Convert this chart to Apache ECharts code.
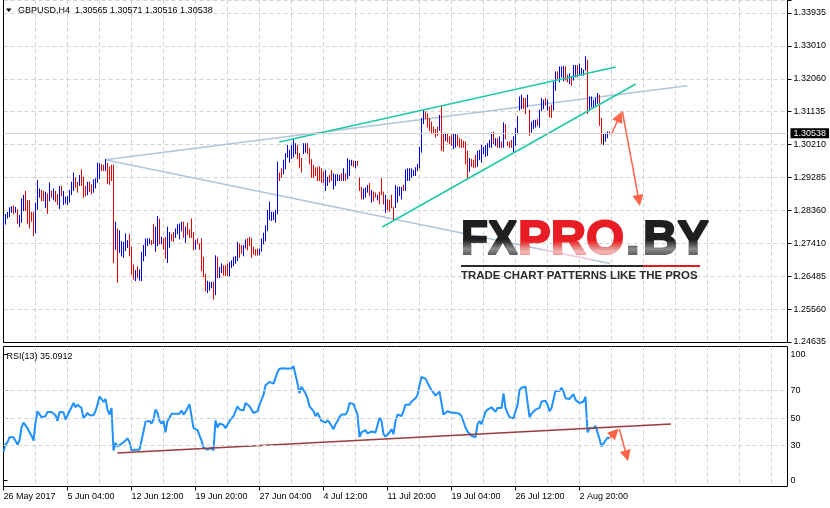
<!DOCTYPE html>
<html><head><meta charset="utf-8">
<script src="https://cdn.jsdelivr.net/npm/echarts@6/dist/echarts.min.js"></script>
<style>html,body{margin:0;padding:0;background:#fff}#c{width:830px;height:508px}</style>
</head><body><div id="c"></div>
<script>
// ---------- DATA (GBPUSD H4 bars) ----------
const opens = [
1.2795,1.2800,1.2816,1.2822,1.2834,1.2845,1.2832,1.2834,1.2796,1.2808,
1.2842,1.2876,1.2858,1.2856,1.2826,1.2826,1.2778,1.2846,1.2878,1.2890,
1.2886,1.2850,1.2878,1.2868,1.2888,1.2870,1.2886,1.2876,1.2848,1.2900,
1.2856,1.2858,1.2856,1.2862,1.2884,1.2898,1.2924,1.2912,1.2910,1.2946,
1.2925,1.2898,1.2884,1.2912,1.2905,1.2890,1.2903,1.2920,1.2932,1.2962,
1.2960,1.2951,1.2966,1.2952,1.2958,1.2940,1.2735,1.2775,1.2722,1.2712,
1.2708,1.2728,1.2735,1.2760,1.2726,1.2678,1.2640,1.2672,1.2642,1.2645,
1.2700,1.2714,1.2740,1.2744,1.2748,1.2790,1.2726,1.2745,1.2806,1.2744,
1.2752,1.2755,1.2700,1.2736,1.2764,1.2770,1.2762,1.2772,1.2760,1.2781,
1.2798,1.2750,1.2795,1.2777,1.2806,1.2770,1.2730,1.2752,1.2739,1.2745,
1.2699,1.2652,1.2607,1.2613,1.2620,1.2628,1.2600,1.2698,1.2650,1.2663,
1.2676,1.2676,1.2680,1.2655,1.2677,1.2682,1.2689,1.2698,1.2738,1.2733,
1.2711,1.2732,1.2752,1.2756,1.2752,1.2728,1.2721,1.2724,1.2712,1.2724,
1.2745,1.2754,1.2783,1.2814,1.2810,1.2812,1.2806,1.2832,1.2938,1.2950,
1.2942,1.2957,1.2990,1.2976,1.2986,1.2990,1.3000,1.3016,1.2993,1.2978,
1.3000,1.3003,1.3020,1.3006,1.2975,1.2960,1.2953,1.2953,1.2955,1.2950,
1.2941,1.2896,1.2909,1.2932,1.2945,1.2900,1.2909,1.2922,1.2922,1.2936,
1.2924,1.2936,1.2929,1.2938,1.2965,1.2973,1.2959,1.2972,1.2925,1.2898,
1.2871,1.2876,1.2890,1.2908,1.2862,1.2884,1.2882,1.2867,1.2884,1.2912,
1.2884,1.2834,1.2862,1.2860,1.2874,1.2841,1.2848,1.2862,1.2880,1.2871,
1.2904,1.2895,1.2923,1.2925,1.2931,1.2936,1.2937,1.2950,1.2960,1.3005,
1.3084,1.3111,1.3106,1.3092,1.3082,1.3069,1.3061,1.3068,1.3065,1.3100,
1.3048,1.3036,1.3049,1.3040,1.3045,1.3014,1.3018,1.3045,1.3035,1.3032,
1.3028,1.3026,1.3000,1.2950,1.2976,1.2974,1.2988,1.2963,1.2982,1.2976,
1.2999,1.2991,1.2994,1.3017,1.3018,1.3054,1.3022,1.3035,1.3017,1.3026,
1.3017,1.3075,1.3027,1.3027,1.3031,1.3004,1.3023,1.3056,1.3122,1.3126,
1.3149,1.3149,1.3131,1.3116,1.3060,1.3070,1.3074,1.3090,1.3075,1.3120,
1.3126,1.3150,1.3122,1.3125,1.3130,1.3122,1.3180,1.3225,1.3203,1.3216,
1.3206,1.3238,1.3215,1.3197,1.3210,1.3207,1.3216,1.3242,1.3221,1.3221,
1.3220,1.3235,1.3256,1.3120,1.3131,1.3131,1.3136,1.3141,1.3158,1.3080,
1.3040,1.3034,1.3045,1.30565];
const closes = [
1.2814,1.2820,1.2828,1.2840,1.2844,1.2830,1.2842,1.2803,1.2817,1.2862,
1.2872,1.2842,1.2806,1.2800,1.2808,1.2770,1.2850,1.2912,1.2893,1.2866,
1.2868,1.2882,1.2832,1.2908,1.2876,1.2893,1.2864,1.2855,1.2898,1.2880,
1.2885,1.2870,1.2872,1.2888,1.2911,1.2936,1.2904,1.2890,1.2930,1.2910,
1.2878,1.2880,1.2911,1.2892,1.2885,1.2918,1.2922,1.2964,1.2964,1.2950,
1.2951,1.2975,1.2918,1.2912,1.2924,1.2700,1.2790,1.2700,1.2770,1.2742,
1.2740,1.2764,1.2747,1.2712,1.2660,1.2645,1.2661,1.2650,1.2663,1.2712,
1.2731,1.2750,1.2752,1.2752,1.2741,1.2745,1.2782,1.2810,1.2745,1.2756,
1.2730,1.2706,1.2782,1.2768,1.2752,1.2751,1.2780,1.2791,1.2793,1.2799,
1.2763,1.2784,1.2770,1.2762,1.2763,1.2728,1.2747,1.2744,1.2729,1.2672,
1.2653,1.2612,1.2631,1.2629,1.2629,1.2590,1.2700,1.2652,1.2671,1.2681,
1.2657,1.2655,1.2655,1.2684,1.2690,1.2700,1.2702,1.2740,1.2707,1.2717,
1.2733,1.2749,1.2727,1.2739,1.2708,1.2715,1.2712,1.2712,1.2724,1.2751,
1.2767,1.2788,1.2830,1.2854,1.2827,1.2828,1.2832,1.2966,1.2923,1.2932,
1.2974,1.2992,1.3016,1.3002,1.3016,1.3034,1.3021,1.2985,1.2962,1.2948,
1.3020,1.3020,1.2999,1.2971,1.2934,1.2932,1.2937,1.2924,1.2923,1.2918,
1.2918,1.2944,1.2926,1.2918,1.2923,1.2936,1.2933,1.2935,1.2932,1.2923,
1.2950,1.2923,1.2978,1.2973,1.2975,1.2962,1.2972,1.2965,1.2895,1.2871,
1.2893,1.2896,1.2903,1.2881,1.2888,1.2866,1.2875,1.2876,1.2857,1.2884,
1.2857,1.2874,1.2840,1.2836,1.2846,1.2810,1.2902,1.2897,1.2898,1.2898,
1.2894,1.2946,1.2950,1.2950,1.2951,1.2946,1.2954,1.2963,1.3010,1.3090,
1.3113,1.3097,1.3075,1.3065,1.3055,1.3055,1.3046,1.3050,1.3100,1.3010,
1.3008,1.3049,1.3032,1.3027,1.3022,1.3048,1.3049,1.3022,1.3017,1.3017,
1.3017,1.2972,1.2940,1.2978,1.2963,1.2959,1.2961,1.2999,1.3002,1.3015,
1.3011,1.3016,1.3021,1.3031,1.3050,1.3027,1.3036,1.3017,1.3040,1.3016,
1.3079,1.3041,1.3021,1.3017,1.3016,1.3040,1.3063,1.3097,1.3153,1.3158,
1.3126,1.3112,1.3158,1.3052,1.3082,1.3087,1.3088,1.3078,1.3115,1.3149,
1.3144,1.3135,1.3144,1.3102,1.3101,1.3194,1.3223,1.3211,1.3237,1.3238,
1.3240,1.3207,1.3202,1.3218,1.3192,1.3241,1.3242,1.3216,1.3246,1.3234,
1.3230,1.3266,1.3114,1.3153,1.3153,1.3144,1.3149,1.3163,1.3080,1.3030,
1.3040,1.3047,1.3055,1.30538];
const lows = [
1.2790,1.2797,1.2814,1.2818,1.2830,1.2826,1.2830,1.2799,1.2790,1.2802,
1.2835,1.2835,1.2799,1.2786,1.2805,1.2764,1.2773,1.2838,1.2873,1.2863,
1.2863,1.2844,1.2827,1.2863,1.2873,1.2866,1.2861,1.2852,1.2841,1.2877,
1.2852,1.2856,1.2852,1.2859,1.2880,1.2892,1.2901,1.2887,1.2906,1.2906,
1.2873,1.2877,1.2880,1.2889,1.2882,1.2887,1.2899,1.2915,1.2925,1.2948,
1.2948,1.2948,1.2912,1.2909,1.2920,1.2688,1.2726,1.2632,1.2717,1.2707,
1.2703,1.2722,1.2731,1.2707,1.2655,1.2641,1.2637,1.2646,1.2638,1.2637,
1.2693,1.2707,1.2736,1.2741,1.2739,1.2742,1.2720,1.2736,1.2741,1.2741,
1.2726,1.2701,1.2688,1.2731,1.2750,1.2748,1.2759,1.2769,1.2755,1.2778,
1.2759,1.2745,1.2767,1.2759,1.2759,1.2724,1.2726,1.2741,1.2726,1.2665,
1.2648,1.2608,1.2603,1.2610,1.2617,1.2585,1.2597,1.2646,1.2646,1.2660,
1.2653,1.2651,1.2651,1.2651,1.2674,1.2679,1.2686,1.2693,1.2703,1.2714,
1.2707,1.2729,1.2724,1.2736,1.2703,1.2712,1.2709,1.2709,1.2710,1.2720,
1.2741,1.2750,1.2778,1.2809,1.2807,1.2809,1.2802,1.2826,1.2920,1.2929,
1.2939,1.2953,1.2986,1.2972,1.2982,1.2986,1.2996,1.2982,1.2958,1.2944,
1.2996,1.3000,1.2996,1.2967,1.2929,1.2929,1.2934,1.2920,1.2920,1.2915,
1.2915,1.2892,1.2906,1.2915,1.2920,1.2896,1.2906,1.2920,1.2920,1.2920,
1.2920,1.2920,1.2925,1.2934,1.2963,1.2960,1.2956,1.2963,1.2892,1.2868,
1.2868,1.2873,1.2887,1.2878,1.2859,1.2863,1.2873,1.2865,1.2854,1.2880,
1.2854,1.2830,1.2837,1.2833,1.2843,1.2807,1.2844,1.2859,1.2878,1.2868,
1.2892,1.2892,1.2920,1.2920,1.2929,1.2934,1.2934,1.2948,1.2956,1.3000,
1.3081,1.3095,1.3071,1.3062,1.3052,1.3052,1.3043,1.3048,1.3062,1.3005,
1.3003,1.3033,1.3029,1.3024,1.3019,1.3010,1.3014,1.3019,1.3014,1.3014,
1.3014,1.2967,1.2928,1.2946,1.2960,1.2956,1.2958,1.2960,1.2979,1.2972,
1.2996,1.2988,1.2991,1.3014,1.3014,1.3024,1.3019,1.3014,1.3014,1.3013,
1.3014,1.3038,1.3019,1.3014,1.3014,1.3000,1.3019,1.3052,1.3119,1.3123,
1.3123,1.3109,1.3128,1.3048,1.3057,1.3067,1.3071,1.3076,1.3071,1.3117,
1.3123,1.3133,1.3119,1.3100,1.3098,1.3119,1.3175,1.3208,1.3199,1.3213,
1.3202,1.3204,1.3199,1.3194,1.3189,1.3204,1.3213,1.3213,1.3218,1.3218,
1.3218,1.3232,1.3109,1.3117,1.3128,1.3128,1.3133,1.3138,1.3076,1.3025,
1.3022,1.3031,1.3041,1.30516];
const highs = [
1.2818,1.2824,1.2830,1.2843,1.2846,1.2848,1.2844,1.2837,1.2821,1.2868,
1.2878,1.2889,1.2863,1.2863,1.2830,1.2830,1.2856,1.2920,1.2896,1.2892,
1.2889,1.2887,1.2882,1.2913,1.2890,1.2896,1.2889,1.2880,1.2903,1.2903,
1.2889,1.2873,1.2875,1.2892,1.2915,1.2941,1.2927,1.2915,1.2934,1.2950,
1.2929,1.2903,1.2915,1.2915,1.2908,1.2922,1.2925,1.2969,1.2967,1.2965,
1.2963,1.2979,1.2969,1.2958,1.2963,1.2963,1.2802,1.2783,1.2778,1.2747,
1.2745,1.2769,1.2750,1.2767,1.2731,1.2681,1.2665,1.2676,1.2667,1.2717,
1.2736,1.2755,1.2755,1.2755,1.2750,1.2795,1.2788,1.2818,1.2811,1.2759,
1.2755,1.2759,1.2788,1.2773,1.2767,1.2773,1.2783,1.2795,1.2797,1.2802,
1.2802,1.2788,1.2799,1.2780,1.2811,1.2773,1.2750,1.2755,1.2741,1.2755,
1.2703,1.2655,1.2635,1.2632,1.2632,1.2632,1.2707,1.2703,1.2674,1.2684,
1.2679,1.2679,1.2684,1.2688,1.2693,1.2703,1.2705,1.2745,1.2741,1.2736,
1.2736,1.2752,1.2755,1.2759,1.2755,1.2731,1.2724,1.2726,1.2726,1.2755,
1.2771,1.2792,1.2835,1.2859,1.2830,1.2830,1.2835,1.2972,1.2941,1.2953,
1.2977,1.2996,1.3019,1.3005,1.3019,1.3038,1.3024,1.3019,1.2996,1.2982,
1.3024,1.3024,1.3024,1.3010,1.2979,1.2963,1.2956,1.2956,1.2958,1.2953,
1.2944,1.2948,1.2929,1.2934,1.2948,1.2939,1.2936,1.2937,1.2934,1.2939,
1.2953,1.2939,1.2982,1.2977,1.2977,1.2975,1.2974,1.2974,1.2927,1.2901,
1.2896,1.2899,1.2906,1.2911,1.2892,1.2887,1.2884,1.2878,1.2887,1.2925,
1.2887,1.2878,1.2865,1.2863,1.2878,1.2844,1.2906,1.2901,1.2901,1.2901,
1.2906,1.2950,1.2953,1.2953,1.2953,1.2948,1.2956,1.2965,1.3014,1.3095,
1.3117,1.3114,1.3109,1.3095,1.3085,1.3071,1.3064,1.3071,1.3104,1.3130,
1.3052,1.3052,1.3052,1.3043,1.3048,1.3052,1.3052,1.3048,1.3038,1.3035,
1.3031,1.3029,1.3003,1.2982,1.2979,1.2977,1.2991,1.3003,1.3005,1.3019,
1.3014,1.3019,1.3024,1.3033,1.3054,1.3057,1.3038,1.3038,1.3043,1.3029,
1.3083,1.3078,1.3029,1.3029,1.3033,1.3043,1.3067,1.3101,1.3156,1.3161,
1.3152,1.3152,1.3161,1.3119,1.3085,1.3090,1.3090,1.3092,1.3119,1.3152,
1.3147,1.3152,1.3147,1.3128,1.3133,1.3199,1.3227,1.3227,1.3241,1.3241,
1.3243,1.3241,1.3218,1.3221,1.3213,1.3245,1.3245,1.3245,1.3249,1.3237,
1.3232,1.3270,1.3260,1.3156,1.3156,1.3147,1.3152,1.3166,1.3161,1.3095,
1.3052,1.3050,1.3057,1.30571];
const rsiValues = [
25.2,30.7,32.4,36.0,37.1,36.0,35.2,30.7,33.6,43.1,
46.7,46.0,42.6,39.5,37.1,33.6,46.7,55.0,53.8,50.7,
50.7,51.4,54.5,53.1,54.5,55.0,52.1,47.9,54.5,53.8,
54.3,49.0,50.2,55.0,57.9,61.0,57.9,59.8,61.0,57.4,
49.8,50.7,53.8,52.1,51.4,52.1,55.0,59.8,65.7,64.0,
61.7,64.0,56.2,52.6,57.4,26.4,31.7,29.3,30.0,31.2,
32.4,33.6,35.2,32.4,26.4,26.4,26.9,26.9,26.9,27.6,
40.2,47.4,46.7,47.9,46.0,49.0,56.2,53.8,47.9,46.0,
47.9,39.5,47.9,50.2,53.1,52.6,53.1,53.8,53.1,55.5,
52.6,54.5,54.5,60.2,51.4,42.6,41.9,41.2,41.9,33.6,
28.3,26.9,26.9,26.9,28.3,26.4,48.3,43.1,46.0,45.5,
45.0,42.6,42.6,47.9,49.0,51.4,55.0,58.6,56.2,56.2,
55.5,61.0,60.2,58.6,58.6,53.8,53.1,55.0,59.8,63.3,
66.9,74.0,74.0,76.4,75.2,75.2,74.0,83.6,86.0,84.8,
86.4,87.1,86.0,84.8,86.4,87.9,87.1,75.2,68.1,72.9,
74.0,68.1,64.5,58.6,57.4,55.0,51.4,53.8,53.8,47.9,
46.7,46.7,48.3,46.7,45.5,41.9,45.5,47.9,50.7,52.6,
51.4,52.6,55.0,61.0,59.8,60.2,60.2,52.6,36.0,39.5,
40.2,41.2,38.8,39.5,40.2,40.7,39.5,40.2,50.2,47.9,
38.3,36.4,37.1,39.5,41.9,38.3,47.9,52.6,51.4,51.4,
55.0,59.8,61.0,59.8,62.1,63.3,64.5,66.9,74.0,80.0,
81.2,78.8,78.8,72.9,70.5,69.8,66.4,65.0,69.3,69.3,
52.6,51.4,55.0,55.0,53.8,53.8,53.8,54.5,53.1,51.4,
50.2,43.1,40.2,38.8,37.1,37.1,36.0,45.5,47.9,45.5,
46.7,54.5,56.2,57.4,57.9,57.4,54.5,57.4,56.2,57.4,
68.1,57.4,53.8,50.7,50.7,49.8,55.0,59.3,70.5,72.1,
72.9,72.9,71.7,50.7,53.1,52.6,56.2,55.0,57.4,62.1,
63.3,62.6,59.8,55.0,57.4,57.4,69.8,70.5,69.8,72.1,
69.3,64.5,64.0,64.0,63.3,67.4,63.3,64.0,61.0,60.2,
62.1,65.7,39.5,42.6,42.6,42.6,44.3,45.5,34.8,29.3,
30.0,33.6,35.6,35.09];

const dateLabels = ['26 May 2017','5 Jun 04:00','12 Jun 12:00','19 Jun 20:00','27 Jun 04:00',
  '4 Jul 12:00','11 Jul 20:00','19 Jul 04:00','26 Jul 12:00','2 Aug 20:00'];
const priceTickLabels = ['1.24635','1.25560','1.26485','1.27410','1.28360','1.29285',
  '1.30210','1.31135','1.32060','1.33010','1.33935'];
const rsiLevels = [30, 50, 70];
const rsiTickLabels = ['0','30','50','70','100'];
const lastPrice = 1.30538;

// drawn objects: [bar index, price] / [bar index, RSI]
const channelUpper = [[137.9, 1.30289], [306.1, 1.32409]];
const channelLower = [[189.4, 1.27886], [316.1, 1.31928]];
const fanUpper = [[50.75, 1.29788], [341.9, 1.3188]];
const fanLower = [[50.75, 1.29788], [303.3, 1.26851]];
const priceArrowUp = [[304.2, 1.30543], [308.0, 1.31004]];
const priceArrowDown = [[309.4, 1.31154], [317.7, 1.28635]];
const rsiTrend = [[56.9, 24.5], [333.75, 45.6]];
const rsiArrowUp = [[303.0, 35.4], [305.65, 39.4]];
const rsiArrowDown = [[307.9, 42.0], [311.6, 22.4]];

// ---------- CHART ----------
const SLOTS = 393;
const cats = Array.from({length: SLOTS}, (_, i) => String(i));
const bars = opens.map((o, i) => [i, o, closes[i], lows[i], highs[i]]);
const FONT = '"Liberation Sans", Arial, sans-serif';
const GRID_LINE = {color: '#d3d3d3', type: [4, 3], width: 1};
const TEAL = '#1ec9a4', STEEL = '#b0c4de', TOMATO = '#ff6347';
const UP = '#0000e6', DOWN = '#e60000', FLAT = '#000000';
const labelTick = (i) => i % 32 === 0 && i <= 288;
const gridTick = (i) => i % 16 === 0 && i > 0;

const chart = echarts.init(document.getElementById('c'), null, {renderer: 'canvas'});
const vGrad = (stops) => ({type: 'linear', x: 0, y: 0, x2: 0, y2: 1, global: false,
  colorStops: stops.map(s => ({offset: s[0], color: s[1]}))});
const grayShine = () => vGrad([[0, '#000000'], [0.42, '#000000'], [0.72, '#8c8c8c'], [1, '#333333']]);
const redShine = () => vGrad([[0, '#000000'], [0.45, '#000000'], [0.78, '#f8b6b6'], [1, '#f07474']]);
const LOGO_FONT = 'bold 49px ' + FONT;
const logoText = (x, text, color, sx) => ({type: 'text', x: x, y: 240, scaleX: sx || 1, z: 100,
  style: {text: text, font: LOGO_FONT, fill: color, stroke: color, lineWidth: 2, verticalAlign: 'middle'}});
const shine = (x, w, grad) => ({type: 'rect', z: 101, shape: {x: x, y: 221, width: w, height: 39},
  style: {fill: grad, blend: 'lighten'}});

const arrowLine = (seg) => [{coord: seg[0]}, {coord: seg[1]}];

chart.setOption({
  animation: false,
  backgroundColor: '#ffffff',
  textStyle: {fontFamily: FONT},
  grid: [
    {left: 3.5, width: 784, top: 0, height: 342},
    {left: 3.5, width: 784, top: 346.5, height: 140, show: true, borderColor: '#000', borderWidth: 1}
  ],
  xAxis: [
    {gridIndex: 0, type: 'category', data: cats, boundaryGap: false,
     axisLine: {show: true, lineStyle: {color: '#000', width: 1}},
     axisTick: {show: false}, axisLabel: {show: false},
     splitLine: {show: true, interval: gridTick, lineStyle: GRID_LINE}},
    {gridIndex: 0, type: 'value', min: 0, max: SLOTS - 1, show: false},
    {gridIndex: 1, type: 'category', data: cats, boundaryGap: false,
     axisLine: {show: false},
     axisTick: {show: true, interval: labelTick, length: 4, lineStyle: {color: '#000'}},
     axisLabel: {show: true, interval: labelTick, align: 'left', margin: 6,
       fontSize: 9, fontFamily: FONT, color: '#000',
       formatter: (v, idx) => dateLabels[Math.round(idx / 32)] || ''},
     splitLine: {show: true, interval: gridTick, lineStyle: GRID_LINE}},
    {gridIndex: 1, type: 'value', min: 0, max: SLOTS - 1, show: false}
  ],
  yAxis: [
    {gridIndex: 0, type: 'value', min: 1.24635, max: 1.34302, position: 'left', offset: 1.5,
     axisLine: {show: true, lineStyle: {color: '#000'}}, axisTick: {show: false},
     axisLabel: {show: false}, splitLine: {show: false}},
    {gridIndex: 0, type: 'value', min: 0, max: 10.395, interval: 1, position: 'right',
     axisLine: {show: true, lineStyle: {color: '#000'}},
     axisTick: {show: true, length: 4, lineStyle: {color: '#000'}},
     axisLabel: {show: true, margin: 6, fontSize: 9, fontFamily: FONT, color: '#000', showMaxLabel: true,
       formatter: (v) => Math.abs(v - Math.round(v)) < 1e-6 ? (priceTickLabels[Math.round(v)] || '') : ''},
     splitLine: {show: true, lineStyle: GRID_LINE}},
    {gridIndex: 1, type: 'value', min: 0, max: 102.3, position: 'right',
     axisLine: {show: false},
     axisTick: {show: true, length: 4, customValues: [4.6, 30, 50, 70, 96.8], lineStyle: {color: '#000'}},
     axisLabel: {show: true, margin: 3, fontSize: 9, fontFamily: FONT, color: '#000',
       customValues: [4.6, 30, 50, 70, 96.8],
       formatter: (v) => v < 10 ? rsiTickLabels[0] : (v > 90 ? rsiTickLabels[4] : String(Math.round(v)))},
     splitLine: {show: false}}
  ],
  series: [
    {type: 'line', name: 'fanUpper', xAxisIndex: 1, yAxisIndex: 0, data: fanUpper, symbol: 'none',
     lineStyle: {color: STEEL, width: 1.5}, silent: true, z: 2,
     markLine: {silent: true, symbol: 'none', animation: false, precision: 5,
       lineStyle: {color: '#d3d3d3', type: 'solid', width: 1},
       label: {show: true, position: 'end', distance: 3, formatter: () => lastPrice.toFixed(5),
         color: '#fff', backgroundColor: '#000', padding: [1, 3, 0, 3], fontSize: 9, fontFamily: FONT},
       data: [{yAxis: lastPrice}]}},
    {type: 'line', name: 'fanLower', xAxisIndex: 1, yAxisIndex: 0, data: fanLower, symbol: 'none',
     lineStyle: {color: STEEL, width: 1.5}, silent: true, z: 2},
    {type: 'custom', name: 'bars', xAxisIndex: 0, yAxisIndex: 0, data: bars, z: 3, silent: true,
     encode: {x: 0, y: [1, 2, 3, 4]},
     renderItem: (params, api) => {
       const i = api.value(0), o = api.value(1), c = api.value(2), l = api.value(3), h = api.value(4);
       const pH = api.coord([i, h]), pL = api.coord([i, l]);
       const col = c > o ? UP : (c < o ? DOWN : FLAT);
       return {type: 'line', shape: {x1: pH[0], y1: pH[1] - 0.5, x2: pL[0], y2: Math.max(pL[1] + 0.5, pH[1] + 1)},
         style: {stroke: col, lineWidth: 1}};
     }},
    {type: 'line', name: 'channelUpper', xAxisIndex: 1, yAxisIndex: 0, data: channelUpper, symbol: 'none',
     lineStyle: {color: TEAL, width: 1.5}, silent: true, z: 4},
    {type: 'line', name: 'channelLower', xAxisIndex: 1, yAxisIndex: 0, data: channelLower, symbol: 'none',
     lineStyle: {color: TEAL, width: 1.5}, silent: true, z: 4,
     markLine: {silent: true, animation: false, precision: 5, symbol: ['none', 'triangle'], symbolSize: 11,
       lineStyle: {color: TOMATO, type: 'solid', width: 1.5}, label: {show: false},
       data: [arrowLine(priceArrowUp), arrowLine(priceArrowDown)]}},
    {type: 'line', name: 'RSI(13)', xAxisIndex: 2, yAxisIndex: 2, data: rsiValues, symbol: 'none',
     lineStyle: {color: '#1e90ff', width: 2}, itemStyle: {color: '#1e90ff'}, silent: true, z: 3,
     markLine: {silent: true, animation: false, precision: 5, symbol: 'none', label: {show: false},
       lineStyle: GRID_LINE, data: rsiLevels.map(v => ({yAxis: v}))}},
    {type: 'line', name: 'rsiTrend', xAxisIndex: 3, yAxisIndex: 2, data: rsiTrend, symbol: 'none',
     lineStyle: {color: '#9a3c3c', width: 1.5}, silent: true, z: 4,
     markLine: {silent: true, animation: false, precision: 5, symbol: ['none', 'triangle'], symbolSize: 11,
       lineStyle: {color: TOMATO, type: 'solid', width: 1.5}, label: {show: false},
       data: [arrowLine(rsiArrowUp), arrowLine(rsiArrowDown)]}}
  ],
  graphic: [
    {type: 'polygon', z: 100, shape: {points: [[6, 8.5], [11.5, 8.5], [8.75, 12]]}, style: {fill: '#000'}},
    {type: 'text', z: 100, x: 18, y: 10.5,
     style: {text: 'GBPUSD,H4  1.30565 1.30571 1.30516 1.30538', font: '9px ' + FONT, fill: '#000', verticalAlign: 'middle'}},
    {type: 'text', z: 100, x: 6.5, y: 356.5,
     style: {text: 'RSI(13) 35.0912', font: '9px ' + FONT, fill: '#000', verticalAlign: 'middle'}},
    logoText(461, 'FX', '#1f1f1f', 0.9),
    logoText(518, 'PRO', '#e81c24', 1),
    logoText(626, '.', '#1f1f1f', 1),
    logoText(643, 'BY', '#1f1f1f', 0.97),
    shine(459, 59, grayShine()),
    shine(518, 108, redShine()),
    shine(626, 86, grayShine()),
    {type: 'rect', z: 100, shape: {x: 461, y: 265, width: 182, height: 2}, style: {fill: '#2b2b2b'}},
    {type: 'rect', z: 100, shape: {x: 643, y: 265, width: 57, height: 2}, style: {fill: '#e3191f'}},
    {type: 'text', x: 461, y: 275.5, scaleX: 1.04, z: 100,
     style: {text: 'TRADE CHART PATTERNS LIKE THE PROS', font: 'bold 11px ' + FONT, fill: '#2b2b2b', verticalAlign: 'middle'}}
  ]
});
</script>
</body></html>
